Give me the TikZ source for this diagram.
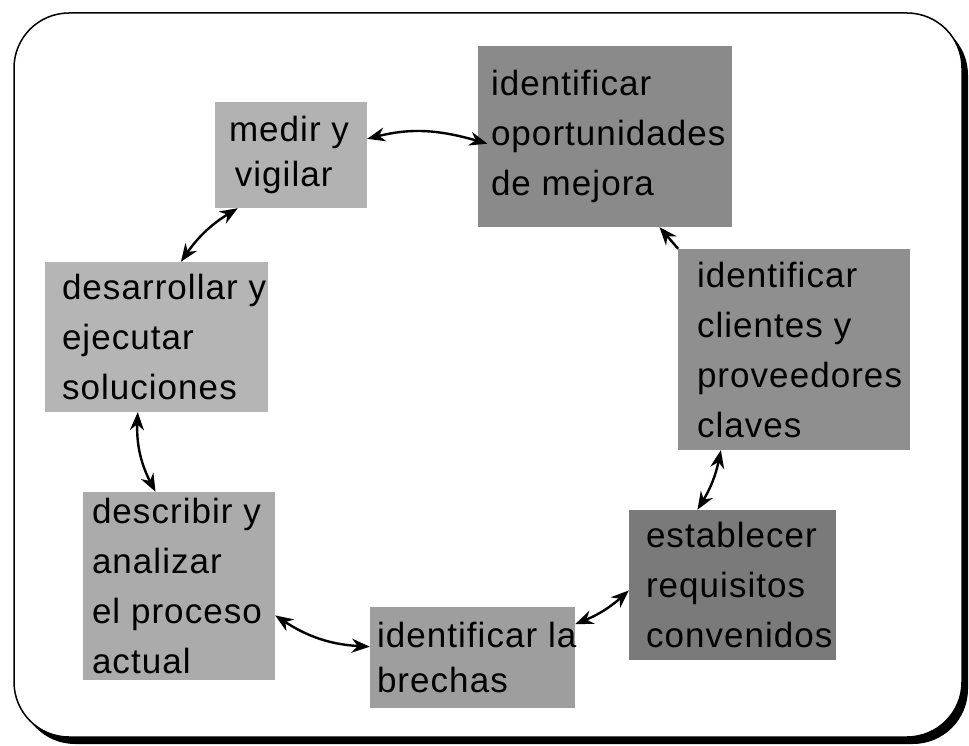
\documentclass[tikz,border=0pt]{standalone}
\usepackage{fontspec}
\setmainfont{Liberation Sans}[LetterSpace=3]
\usetikzlibrary{arrows.meta}

\tikzset{
  stepbox/.style={rectangle, inner sep=0pt, draw=none},
  lbl/.style={font=\fontsize{35}{50}\selectfont, align=left, inner sep=0pt, anchor=west, text=black},
  link/.style={line width=2.4pt, bend left=#1, <->},
  link/.default=12,
  halflink/.style={line width=2.4pt, <-},
}

\begin{document}
\begin{tikzpicture}[x=1pt,y=-1pt, >={Stealth[length=18pt,width=14pt]}]
\useasboundingbox (0,0) rectangle (969,746);

% frame with drop shadow
\fill[black, rounded corners=55pt] (20,20) rectangle (968,744);
\draw[line width=1.5pt, fill=white, rounded corners=55pt] (14,13) rectangle (962,737);

% process steps
\node[stepbox, fill=black!30, minimum width=152pt, minimum height=106pt] (m) at (291,155) {};
\node[lbl, font=\fontsize{35}{45}\selectfont] (mt) at ([xshift=14pt]m.west) {medir y\\ \,vigilar};

\node[stepbox, fill=black!46, minimum width=254pt, minimum height=181pt] (o) at (605,136.5) {};
\node[lbl] (ot) at ([xshift=13pt]o.west) {identificar\\oportunidades\\de mejora};

\node[stepbox, fill=black!44, minimum width=232pt, minimum height=201pt] (c) at (794,349.5) {};
\node[lbl] (ct) at ([xshift=19pt]c.west) {identificar\\clientes y\\proveedores\\claves};

\node[stepbox, fill=black!52, minimum width=207pt, minimum height=150pt] (e) at (732.5,585) {};
\node[lbl] (et) at ([xshift=17pt]e.west) {establecer\\requisitos\\convenidos};

\node[stepbox, fill=black!38, minimum width=205pt, minimum height=101pt] (b) at (472.5,657.5) {};
\node[lbl, font=\fontsize{35}{45}\selectfont] (bt) at ([xshift=7pt]b.west) {identificar la\\brechas};

\node[stepbox, fill=black!33, minimum width=192pt, minimum height=188pt] (d) at (179,586) {};
\node[lbl] (dt) at ([xshift=9pt]d.west) {describir y\\analizar\\el proceso\\actual};

\node[stepbox, fill=black!29, minimum width=223pt, minimum height=150pt] (w) at (156.5,337) {};
\node[lbl] (wt) at ([xshift=17pt]w.west) {desarrollar y\\ejecutar\\soluciones};

% connectors around the cycle
\draw[link=15, shorten >=-10pt] (m.12) to (o.182);
\draw[halflink] (o.-59) to (c.139);
\draw[link=10] (c.-126) to (e.115);
\draw[link=10] (e.183) to (b.18);
\draw[link=15] (b.174) to (d.-17);
\draw[link=15] (d.104) to (w.-104);
\draw[link=12] (w.72) to (m.225);
\end{tikzpicture}
\end{document}
